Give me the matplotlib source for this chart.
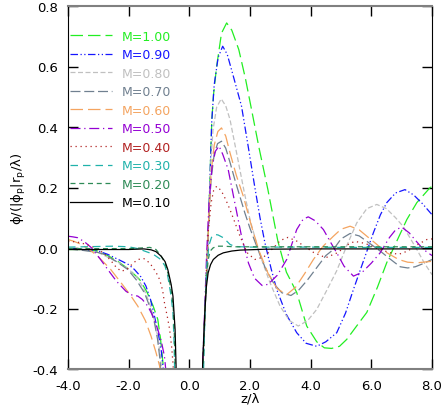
import numpy as np
import matplotlib
matplotlib.use("Agg")
import matplotlib.pyplot as plt

nan = np.nan

# curves (z/lambda, phi); nan splits the two branches
LABELS = ["M=1.00", "M=0.90", "M=0.80", "M=0.70", "M=0.60",
          "M=0.50", "M=0.40", "M=0.30", "M=0.20", "M=0.10"]

Z_100 = [-4.0, -3.5, -3.0, -2.6, -2.36, -2.0, -1.64, -1.4, -1.2, -1.04, -0.95, -0.87, -0.83, nan,
         0.42, 0.5, 0.56, 0.61, 0.67, 0.74, 0.8, 0.9, 1.06, 1.23, 1.4, 1.63, 1.85, 2.05, 2.3, 2.59,
         2.92, 3.2, 3.54, 3.87, 4.2, 4.45, 4.69, 4.95, 5.19, 5.5, 5.85, 6.2, 6.51, 6.85, 7.17, 7.5,
         7.94, 8.0]
PHI_100 = [-0.005, -0.005, -0.01, -0.03, -0.044, -0.07, -0.104, -0.145, -0.19, -0.236, -0.3, -0.38, -0.44, nan,
           -0.44, -0.25, -0.1, 0.0, 0.2, 0.42, 0.51, 0.6, 0.71, 0.744, 0.72, 0.656, 0.56, 0.458, 0.33, 0.193,
           0.022, -0.08, -0.147, -0.258, -0.31, -0.33, -0.332, -0.325, -0.302, -0.26, -0.213, -0.13, -0.048,
           0.025, 0.094, 0.15, 0.2, 0.203]

Z_090 = [-4.0, -3.5, -3.0, -2.69, -2.3, -2.0, -1.81, -1.6, -1.43, -1.28, -1.15, -1.03, -0.93, -0.86, -0.82, nan,
         0.42, 0.5, 0.56, 0.61, 0.67, 0.74, 0.82, 0.95, 1.1, 1.25, 1.45, 1.72, 1.95, 2.16, 2.33, 2.49, 2.7,
         2.88, 3.2, 3.54, 3.85, 4.2, 4.5, 4.86, 5.15, 5.41, 5.75, 6.07, 6.3, 6.51, 6.8, 7.11, 7.4, 7.7,
         7.94, 8.0]
PHI_090 = [-0.003, -0.005, -0.01, -0.021, -0.04, -0.055, -0.071, -0.095, -0.126, -0.17, -0.225, -0.28, -0.335, -0.4, -0.45, nan,
           -0.44, -0.25, -0.1, 0.0, 0.2, 0.42, 0.54, 0.63, 0.667, 0.64, 0.568, 0.469, 0.33, 0.2, 0.1, 0.018, -0.07,
           -0.137, -0.22, -0.28, -0.315, -0.325, -0.31, -0.28, -0.215, -0.137, -0.04, 0.051, 0.11, 0.15, 0.182,
           0.193, 0.175, 0.145, 0.117, 0.11]

Z_080 = [-4.0, -3.5, -3.0, -2.7, -2.3, -2.0, -1.7, -1.5, -1.3, -1.15, -1.03, -0.95, -0.89, nan,
         0.42, 0.5, 0.56, 0.62, 0.7, 0.78, 0.9, 1.05, 1.2, 1.34, 1.6, 1.8, 2.0, 2.3, 2.66, 2.99, 3.3, 3.59,
         3.9, 4.2, 4.53, 4.86, 5.2, 5.52, 5.85, 6.18, 6.5, 6.8, 7.06, 7.5, 7.75, 8.0]
PHI_080 = [-0.003, -0.006, -0.015, -0.03, -0.05, -0.07, -0.1, -0.135, -0.185, -0.24, -0.3, -0.36, -0.42, nan,
           -0.44, -0.25, -0.1, 0.05, 0.27, 0.39, 0.465, 0.493, 0.47, 0.425, 0.293, 0.19, 0.094, -0.015, -0.115,
           -0.192, -0.24, -0.258, -0.24, -0.203, -0.14, -0.075, 0.01, 0.083, 0.13, 0.144, 0.13, 0.1, 0.07,
           -0.005, -0.05, -0.088]

Z_070 = [-4.0, -3.5, -3.0, -2.8, -2.4, -2.03, -1.75, -1.48, -1.3, -1.15, -1.05, -0.98, -0.93, nan,
         0.42, 0.5, 0.57, 0.64, 0.72, 0.82, 0.93, 1.06, 1.2, 1.35, 1.5, 1.83, 2.0, 2.22, 2.5, 2.8, 3.05, 3.35,
         3.6, 3.9, 4.2, 4.5, 4.75, 5.0, 5.3, 5.6, 5.95, 6.29, 6.6, 6.95, 7.2, 7.45, 7.7, 8.0]
PHI_070 = [-0.003, -0.008, -0.015, -0.021, -0.045, -0.071, -0.105, -0.148, -0.195, -0.247, -0.3, -0.358, -0.42, nan,
           -0.44, -0.25, -0.08, 0.1, 0.23, 0.31, 0.345, 0.353, 0.33, 0.28, 0.226, 0.116, 0.065, 0.006, -0.065,
           -0.12, -0.148, -0.157, -0.14, -0.105, -0.065, -0.025, -0.005, 0.03, 0.048, 0.04, 0.015, -0.01,
           -0.035, -0.062, -0.066, -0.062, -0.052, -0.038]

Z_060 = [-4.0, -3.8, -3.57, -3.3, -3.02, -2.6, -2.25, -1.95, -1.7, -1.45, -1.26, -1.1, -0.98, -0.94, nan,
         0.42, 0.5, 0.57, 0.64, 0.72, 0.82, 0.94, 1.06, 1.2, 1.34, 1.55, 1.78, 2.05, 2.3, 2.6, 2.9, 3.21, 3.5,
         3.8, 4.09, 4.4, 4.75, 5.0, 5.3, 5.6, 5.9, 6.18, 6.5, 6.9, 7.2, 7.5, 7.8, 8.0]
PHI_060 = [0.028, 0.022, 0.012, -0.005, -0.027, -0.07, -0.115, -0.155, -0.192, -0.24, -0.292, -0.345, -0.39, -0.42, nan,
           -0.44, -0.25, -0.08, 0.1, 0.25, 0.34, 0.385, 0.397, 0.37, 0.315, 0.24, 0.171, 0.072, -0.01, -0.085,
           -0.135, -0.154, -0.13, -0.085, -0.038, 0.005, 0.039, 0.062, 0.072, 0.06, 0.035, 0.012, -0.015,
           -0.038, -0.047, -0.049, -0.046, -0.044]

Z_050 = [-4.0, -3.85, -3.68, -3.45, -3.24, -2.95, -2.69, -2.4, -2.09, -1.9, -1.7, -1.55, -1.37, -1.2, -1.04,
         -0.92, -0.82, -0.76, nan,
         0.42, 0.5, 0.57, 0.65, 0.75, 0.86, 0.98, 1.1, 1.28, 1.5, 1.72, 1.95, 2.15, 2.4, 2.6, 2.9, 3.21, 3.54,
         3.75, 3.92, 4.15, 4.42, 4.65, 4.86, 5.1, 5.41, 5.7, 6.0, 6.29, 6.6, 6.8, 7.0, 7.25, 7.5, 7.72, 8.0]
PHI_050 = [0.039, 0.037, 0.034, 0.02, 0.002, -0.035, -0.071, -0.11, -0.143, -0.155, -0.159, -0.17, -0.192, -0.225,
           -0.269, -0.31, -0.358, -0.42, nan,
           -0.44, -0.22, -0.02, 0.15, 0.27, 0.32, 0.337, 0.31, 0.26, 0.149, 0.039, -0.05, -0.1, -0.124, -0.12,
           -0.09, -0.038, 0.061, 0.095, 0.103, 0.09, 0.061, 0.02, -0.016, -0.06, -0.093, -0.08, -0.05, -0.016,
           0.035, 0.06, 0.069, 0.05, 0.02, -0.005, -0.025]

Z_040 = [-4.0, -3.7, -3.4, -3.1, -2.85, -2.6, -2.4, -2.24, -2.05, -1.85, -1.7, -1.5, -1.3, -1.1, -0.98, -0.88,
         -0.82, -0.72, -0.65, -0.58, -0.54, -0.51, nan,
         0.44, 0.5, 0.56, 0.63, 0.72, 0.8, 0.9, 1.05, 1.2, 1.34, 1.5, 1.67, 1.9, 2.16, 2.45, 2.77, 3.0, 3.25,
         3.54, 3.8, 4.1, 4.5, 4.9, 5.2, 5.45, 5.8, 6.2, 6.6, 6.9, 7.2, 7.5, 7.83, 8.0]
PHI_040 = [0.022, 0.02, 0.012, 0.0, -0.015, -0.04, -0.065, -0.077, -0.07, -0.05, -0.038, -0.035, -0.05, -0.08,
           -0.104, -0.14, -0.181, -0.23, -0.269, -0.33, -0.38, -0.43, nan,
           -0.44, -0.25, -0.08, 0.06, 0.15, 0.19, 0.204, 0.19, 0.16, 0.127, 0.085, 0.039, -0.015, -0.038, -0.03,
           0.0, 0.025, 0.035, 0.023, 0.005, -0.015, -0.032, -0.015, 0.01, 0.022, 0.015, -0.002, -0.015, -0.021,
           -0.01, 0.01, 0.028, 0.03]

Z_030 = [-4.0, -3.5, -3.0, -2.5, -2.0, -1.7, -1.48, -1.2, -0.94, -0.8, -0.71, -0.6, -0.54, -0.5, -0.48, nan,
         0.46, 0.52, 0.58, 0.65, 0.73, 0.84, 0.95, 1.12, 1.34, 1.5, 2.0, 3.0, 4.0, 5.0, 6.0, 7.0, 8.0]
PHI_030 = [0.003, 0.004, 0.005, 0.006, 0.004, -0.002, -0.01, -0.02, -0.038, -0.06, -0.093, -0.16, -0.214, -0.32,
           -0.43, nan,
           -0.44, -0.2, -0.05, 0.01, 0.035, 0.045, 0.043, 0.034, 0.012, 0.005, 0.003, 0.003, 0.003, 0.002,
           0.002, 0.002, 0.002]

Z_020 = [-4.0, -3.0, -2.0, -1.6, -1.3, -1.1, -0.94, -0.8, -0.7, -0.6, -0.53, -0.49, -0.46, nan,
         0.44, 0.5, 0.55, 0.62, 0.68, 0.78, 0.9, 1.1, 1.5, 2.5, 4.0, 6.0, 8.0]
PHI_020 = [-0.002, -0.002, -0.002, 0.0, 0.002, -0.005, -0.025, -0.05, -0.085, -0.14, -0.2, -0.3, -0.43, nan,
           -0.44, -0.25, -0.12, -0.04, -0.011, 0.0, 0.006, 0.006, 0.004, 0.004, 0.004, 0.004, 0.004]

Z_010 = [-4.0, -3.0, -2.0, -1.5, -1.26, -1.1, -0.93, -0.8, -0.71, -0.6, -0.54, -0.47, -0.44, -0.43, nan,
         0.43, 0.44, 0.51, 0.56, 0.62, 0.7, 0.79, 0.95, 1.12, 1.4, 1.67, 2.5, 4.0, 6.0, 8.0]
PHI_010 = [-0.005, -0.005, -0.005, -0.003, -0.006, -0.012, -0.027, -0.045, -0.071, -0.12, -0.159, -0.269, -0.38,
           -0.43, nan,
           -0.44, -0.38, -0.214, -0.13, -0.082, -0.055, -0.038, -0.024, -0.016, -0.01, -0.007, -0.004, -0.003,
           -0.003, -0.003]

Z_ALL = [Z_100, Z_090, Z_080, Z_070, Z_060, Z_050, Z_040, Z_030, Z_020, Z_010]
PHI_ALL = [PHI_100, PHI_090, PHI_080, PHI_070, PHI_060, PHI_050, PHI_040, PHI_030, PHI_020, PHI_010]

COLORS = ["#22ee22", "#1515ff", "#c0c0c0", "#708090", "#f4a460",
          "#9400d3", "#b22222", "#20b2aa", "#2e8b57", "#000000"]
DASHES = [(10, 4), (6, 2, 1, 2, 1, 2), (4, 2), (8, 3), (10, 4),
          (8, 3, 1, 3), (1, 3), (6, 4), (4, 3), None]

XTICKS = [-4, -2, 0, 2, 4, 6, 8]
YTICKS = [-0.4, -0.2, 0.0, 0.2, 0.4, 0.6, 0.8]

plt.rcParams["font.family"] = ["DejaVu Sans"]
plt.rcParams["font.size"] = 9

fig = plt.figure(figsize=(4.43, 4.14), dpi=100)
ax = fig.add_axes([68 / 443, 1 - 370 / 414, 364 / 443, 363 / 414])

for z, phi, c, d, lab in zip(Z_ALL, PHI_ALL, COLORS, DASHES, LABELS):
    line, = ax.plot(z, phi, color=c, lw=0.9, label=lab)
    if d is not None:
        line.set_dashes(d)

ax.set_xlim(-4, 8)
ax.set_ylim(-0.4, 0.8)
ax.set_xticks(XTICKS)
ax.set_yticks(YTICKS)
ax.xaxis.set_major_formatter(matplotlib.ticker.FormatStrFormatter("%.1f"))
ax.yaxis.set_major_formatter(matplotlib.ticker.FormatStrFormatter("%.1f"))
ax.tick_params(direction="in", length=7, width=1, top=True, right=True, pad=7)
ax.tick_params(axis="x", labelsize=9.5)
ax.tick_params(axis="y", labelsize=9.5)
ax.spines[["top", "bottom"]].set_color("#808080")
ax.spines[["top", "bottom"]].set_linewidth(1.5)

ax.set_xlabel("z/λ", labelpad=0, fontsize=9.5)
ax.set_ylabel("ϕ/(|ϕ$_\\mathregular{p}$|r$_\\mathregular{p}$/λ)", labelpad=3, fontsize=9.5)

ax.legend(loc="upper left", bbox_to_anchor=(0.005, 0.935), frameon=False,
          borderaxespad=0, borderpad=0, handlelength=3.4, handletextpad=0.75,
          labelspacing=0.44, labelcolor="linecolor", fontsize=9)

fig.savefig("out.png", dpi=100)
